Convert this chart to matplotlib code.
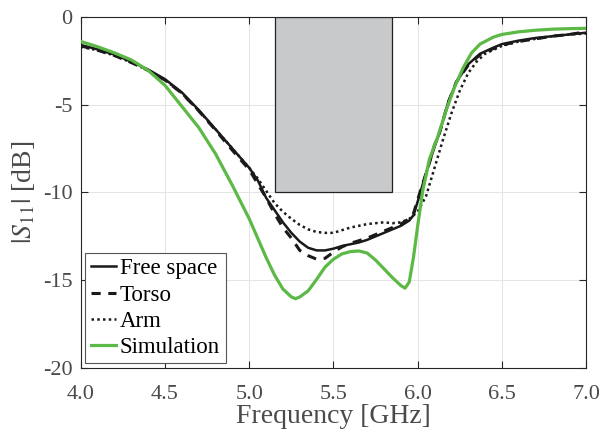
import matplotlib
matplotlib.use("Agg")
import matplotlib.pyplot as plt
from matplotlib.patches import Rectangle

plt.rcParams['font.family'] = ['Liberation Serif', 'DejaVu Serif']
plt.rcParams['mathtext.fontset'] = 'stix'

# Free space measurement
f_free = [4.0, 4.1, 4.2, 4.3, 4.4, 4.5, 4.6, 4.7, 4.8, 4.9, 5.0, 5.05, 5.1, 5.15, 5.2, 5.25,
          5.3, 5.35, 5.4, 5.45, 5.5, 5.55, 5.6, 5.65, 5.7, 5.75, 5.8, 5.85, 5.9, 5.95, 5.975,
          6.01, 6.04, 6.07, 6.1, 6.13, 6.18, 6.23, 6.3, 6.37, 6.45, 6.5, 6.6, 6.7, 6.8, 6.9, 7.0]
s_free = [-1.6, -1.85, -2.15, -2.55, -3.0, -3.55, -4.3, -5.3, -6.4, -7.5, -8.6, -9.3, -10.3,
          -11.0, -11.7, -12.3, -12.8, -13.15, -13.3, -13.3, -13.2, -13.05, -12.95, -12.85,
          -12.7, -12.5, -12.3, -12.1, -11.9, -11.6, -11.3, -10.2, -9.2, -8.3, -7.4, -6.6,
          -4.9, -3.7, -2.7, -2.1, -1.75, -1.55, -1.35, -1.2, -1.1, -1.0, -0.9]

# Torso measurement
f_torso = [4.0, 4.1, 4.2, 4.3, 4.4, 4.5, 4.6, 4.7, 4.8, 4.9, 5.0, 5.05, 5.1, 5.15, 5.2, 5.25,
           5.3, 5.35, 5.4, 5.45, 5.5, 5.55, 5.6, 5.65, 5.7, 5.75, 5.8, 5.85, 5.9, 5.95, 5.975,
           6.01, 6.04, 6.07, 6.1, 6.13, 6.18, 6.23, 6.3, 6.37, 6.45, 6.5, 6.6, 6.7, 6.8, 6.9, 7.0]
s_torso = [-1.65, -1.9, -2.2, -2.6, -3.05, -3.6, -4.35, -5.35, -6.45, -7.6, -8.7, -9.5, -10.3,
           -11.2, -12.0, -12.6, -13.3, -13.6, -13.8, -13.75, -13.4, -13.1, -12.9, -12.75,
           -12.6, -12.4, -12.2, -12.0, -11.8, -11.5, -11.2, -10.1, -9.2, -8.3, -7.3, -6.6,
           -4.9, -3.7, -2.75, -2.15, -1.8, -1.6, -1.4, -1.25, -1.1, -1.0, -0.85]

# Arm measurement
f_arm = [4.0, 4.1, 4.2, 4.3, 4.4, 4.5, 4.6, 4.7, 4.8, 4.9, 5.0, 5.05, 5.1, 5.15, 5.2, 5.25,
         5.3, 5.35, 5.4, 5.45, 5.5, 5.55, 5.6, 5.65, 5.7, 5.75, 5.8, 5.85, 5.9, 5.95, 6.0,
         6.05, 6.1, 6.15, 6.2, 6.25, 6.3, 6.35, 6.4, 6.5, 6.6, 6.7, 6.8, 6.9, 7.0]
s_arm = [-1.7, -1.9, -2.2, -2.6, -3.05, -3.6, -4.35, -5.35, -6.4, -7.5, -8.6, -9.2, -9.9,
         -10.6, -11.1, -11.5, -11.85, -12.1, -12.25, -12.3, -12.3, -12.15, -12.0, -11.9,
         -11.8, -11.75, -11.7, -11.75, -11.7, -11.5, -11.1, -10.2, -8.6, -7.0, -5.5, -4.2,
         -3.2, -2.55, -2.1, -1.65, -1.4, -1.25, -1.1, -1.0, -0.95]

# Simulation
f_sim = [4.0, 4.1, 4.2, 4.3, 4.4, 4.5, 4.6, 4.7, 4.8, 4.9, 5.0, 5.05, 5.1, 5.15, 5.2, 5.25,
         5.275, 5.3, 5.35, 5.4, 5.45, 5.5, 5.55, 5.6, 5.65, 5.7, 5.75, 5.8, 5.85, 5.9, 5.925,
         5.95, 5.975, 6.0, 6.03, 6.07, 6.12, 6.17, 6.22, 6.27, 6.32, 6.37, 6.45, 6.5, 6.6,
         6.7, 6.8, 6.9, 7.0]
s_sim = [-1.4, -1.7, -2.05, -2.45, -3.05, -3.9, -5.1, -6.3, -7.8, -9.6, -11.5, -12.6, -13.7,
         -14.7, -15.5, -15.95, -16.05, -15.95, -15.6, -14.95, -14.25, -13.8, -13.5, -13.37,
         -13.33, -13.45, -13.85, -14.35, -14.85, -15.3, -15.45, -15.1, -13.7, -11.9, -9.9,
         -8.1, -6.8, -5.3, -3.97, -2.9, -2.05, -1.55, -1.15, -1.0, -0.85, -0.76, -0.7,
         -0.67, -0.65]

band_lo, band_hi, band_level = 5.15, 5.85, -10

xticks = [4.0, 4.5, 5.0, 5.5, 6.0, 6.5, 7.0]
yticks = [0, -5, -10, -15, -20]

fig = plt.figure(figsize=(6.03, 4.33), dpi=100)
ax = fig.add_axes([0.134, 0.150, 0.838, 0.811])

ax.add_patch(Rectangle((band_lo, band_level), band_hi - band_lo, 0 - band_level,
                       facecolor='#c8c9cb', edgecolor='#222222', linewidth=0.9, zorder=1))

ax.plot(f_free, s_free, color='#1a1a1a', lw=1.8, ls='-', label='Free space', zorder=3)
ax.plot(f_torso, s_torso, color='#1a1a1a', lw=2.2, ls=(0, (3, 2.5)), label='Torso', zorder=3)
ax.plot(f_arm, s_arm, color='#1a1a1a', lw=1.8, ls=(0, (1, 1.3)), label='Arm', zorder=3)
ax.plot(f_sim, s_sim, color='#5cb946', lw=2.3, ls='-', label='Simulation', zorder=4)

ax.set_xlim(4.0, 7.0)
ax.set_ylim(-20, 0)
ax.set_xticks(xticks)
ax.set_xticklabels([f"{t:.1f}" for t in xticks])
ax.set_yticks(yticks)
ax.set_yticklabels([str(t) for t in yticks])
ax.grid(True, color='#e4e4e4', lw=0.7, zorder=0)
ax.set_axisbelow(True)
ax.tick_params(direction='in', top=True, right=True, length=5, width=0.8,
               labelsize=16, colors='#262626', labelcolor='#4a4a4a')
ax.tick_params(axis='x', pad=12)
ax.tick_params(axis='y', pad=6)
for sp in ax.spines.values():
    sp.set_color('#262626')
    sp.set_linewidth(0.8)

ax.set_xlabel('Frequency [GHz]', fontsize=20, color='#4a4a4a', labelpad=0)
ax.set_ylabel(r'$|S_{11}|$ [dB]', fontsize=20, color='#4a4a4a', labelpad=4)

leg = ax.legend(loc='lower left', fontsize=16.5, frameon=True, fancybox=False,
                edgecolor='#555555', framealpha=1, handlelength=1.1, handletextpad=0.15,
                borderpad=0.25, labelspacing=0.22, borderaxespad=0.2)
leg.get_frame().set_linewidth(0.8)

fig.savefig('out.png', dpi=100)
